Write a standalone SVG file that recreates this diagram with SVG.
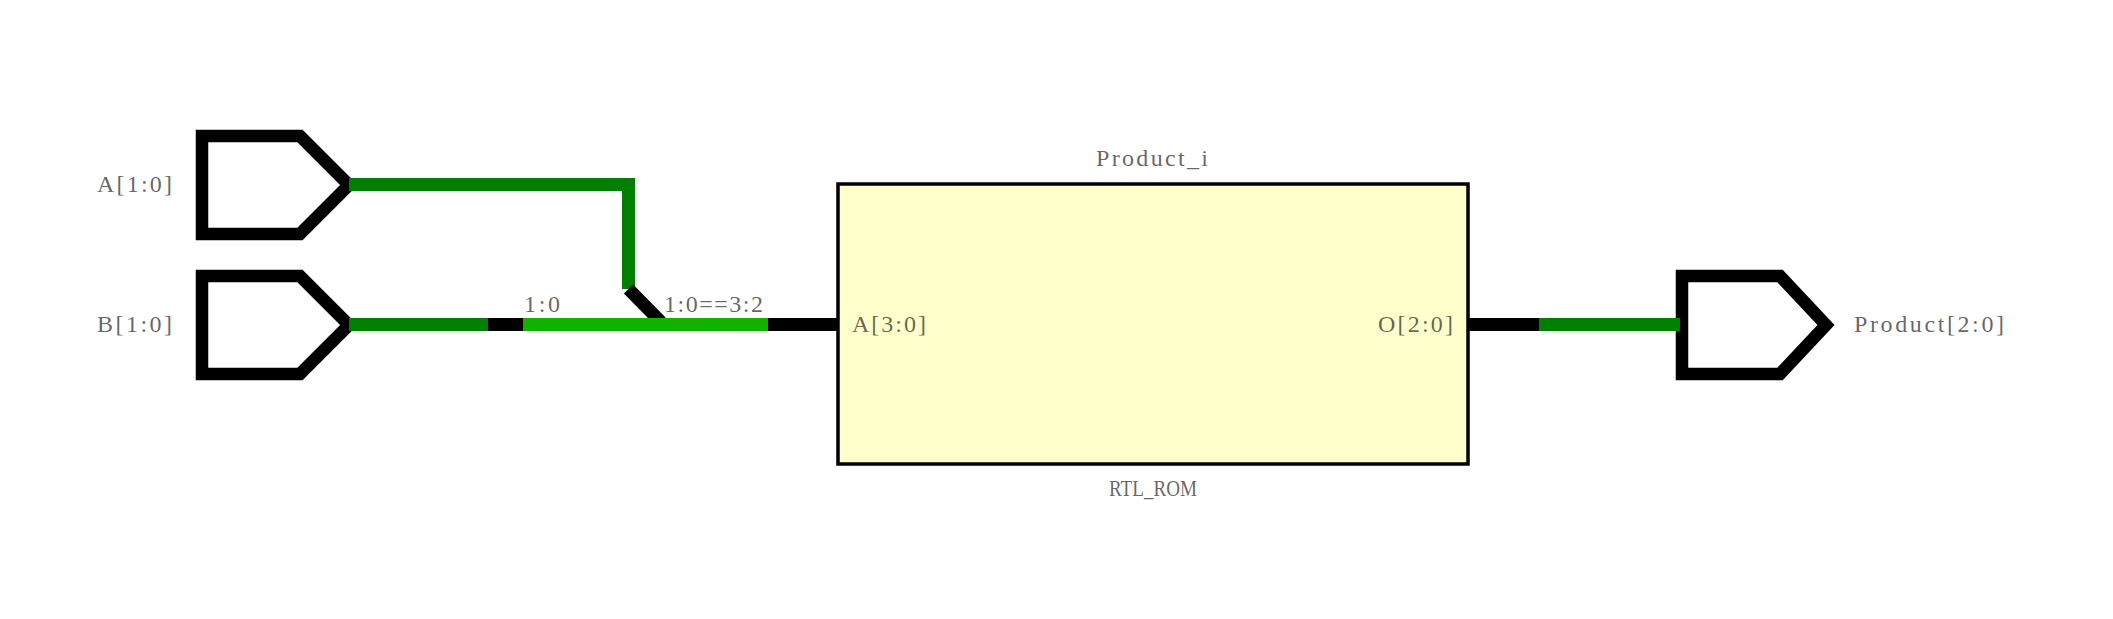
<svg xmlns="http://www.w3.org/2000/svg" width="2113" height="619" viewBox="0 0 2113 619">
<style>
.port{fill:none;stroke:#000;stroke-width:12.500;stroke-linejoin:miter;stroke-miterlimit:4}
.w{fill:none;stroke-width:13;stroke-linecap:butt}
.k{stroke:#000}.g{stroke:#007f00}.b{stroke:#14b000}
text{font-family:"Liberation Serif","Noto Sans CJK SC",serif;font-size:24px;fill:#000;fill-opacity:.62}
</style>
<rect width="2113" height="619" fill="#fff"/>
<g id="port-A"><polygon class="port" points="202,136 300,136 349,185 300,234 202,234"/><text x="97" y="192" textLength="75" lengthAdjust="spacing">A[1:0]</text></g>
<g id="port-B"><polygon class="port" points="202,276 300,276 349,325 300,374 202,374"/><text x="97" y="332" textLength="75" lengthAdjust="spacing">B[1:0]</text></g>
<g id="slice-label"><text x="524" y="312" textLength="36" lengthAdjust="spacing">1:0</text></g>
<g id="concat-label"><text x="664" y="312" textLength="99" lengthAdjust="spacing">1:0==3:2</text></g>
<g id="Product_i">
<rect x="838" y="184" width="630" height="280" fill="#ffffcc" stroke="#000" stroke-width="3.500"/>
<text x="1096" y="166" textLength="112" lengthAdjust="spacing">Product_i</text>
<text x="852" y="332" textLength="74" lengthAdjust="spacing">A[3:0]</text>
<text x="1378" y="332" textLength="75" lengthAdjust="spacing">O[2:0]</text>
<text x="1109" y="496" textLength="88" lengthAdjust="spacingAndGlyphs">RTL_ROM</text>
</g>
<g id="port-Product"><polygon class="port" points="1682,276 1780,276 1826,325 1780,374 1682,374"/><text x="1854" y="332" textLength="150" lengthAdjust="spacing">Product[2:0]</text></g>
<g id="connectors">
<path class="w g" d="M349 184.500H628.500V289"/>
<path class="w k" d="M628.500 289L661 322"/>
<path class="w g" d="M349 324.500H488"/>
<path class="w k" d="M488 324.500H523"/>
<path class="w b" d="M523 324.500H768"/>
<path class="w k" d="M768 324.500H838"/>
<path class="w k" d="M1468 324.500H1539"/>
<path class="w g" d="M1539 324.500H1680"/>
</g>
</svg>
